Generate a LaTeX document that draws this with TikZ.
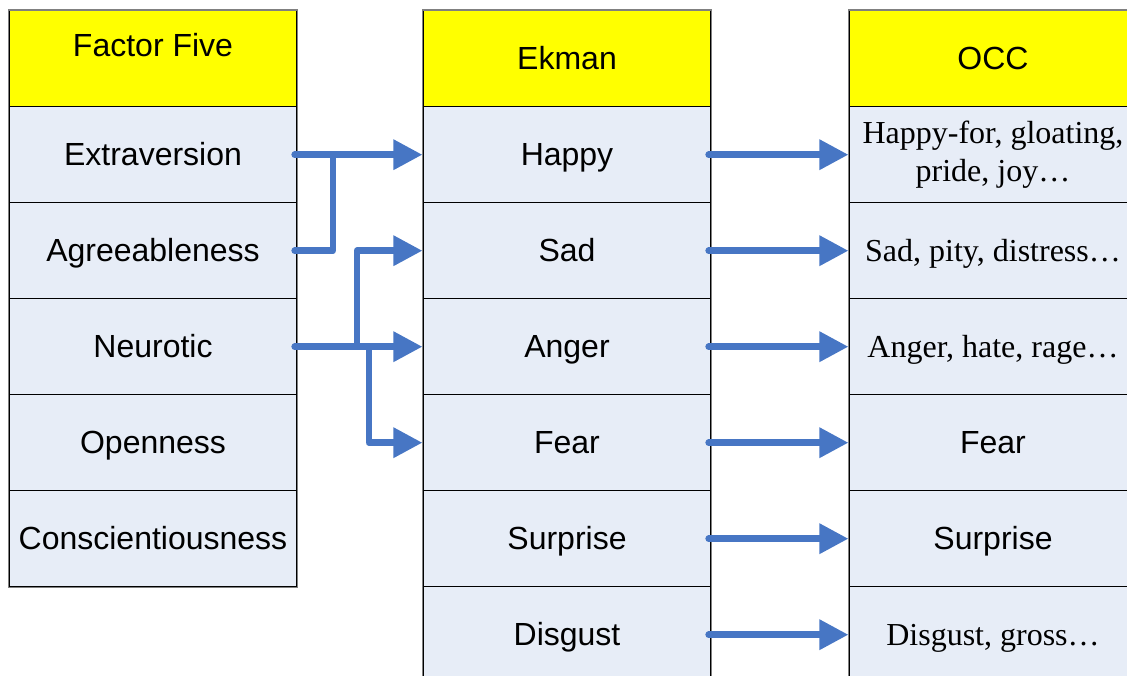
\documentclass[tikz,border=0pt]{standalone}
\usepackage{fontspec}
\setmainfont{Liberation Serif}
\newfontfamily\arialfont{Liberation Sans}
\usetikzlibrary{arrows.meta}

\definecolor{headyellow}{RGB}{255,255,0}
\definecolor{rowblue}{RGB}{231,237,247}
\definecolor{flowblue}{RGB}{71,118,196}
\definecolor{framegray}{RGB}{128,128,128}

\tikzset{
  box/.style={draw=black, line width=1.2pt, fill=rowblue, minimum width=288pt, minimum height=96pt, inner sep=0pt, font=\arialfont\fontsize{32}{38}\selectfont},
  cell/.style={box, text height=23pt, text depth=1pt},
  head/.style={cell, fill=headyellow},
  occcell/.style={cell, font=\fontsize{32}{38}\selectfont, align=center},
  twoline/.style={box, font=\fontsize{32}{38}\selectfont, align=center},
  frame/.style={draw=framegray, line width=1.5pt},
  link/.style={draw=flowblue, line width=6.5pt, line cap=round, line join=round},
  flow/.style={link, -{Triangle[length=29pt,width=29pt]}}
}

\begin{document}
\begin{tikzpicture}[x=1pt,y=-1pt]
\useasboundingbox (0,0) rectangle (1127,676);
\clip (0,0) rectangle (1127,676);

% Factor Five column
\node[head] (ff) at (153,58.7) {\raisebox{13pt}{Factor Five}};
\node[cell] (extra) at (153,154.7) {Extraversion};
\node[cell] (agree) at (153,250.7) {Agreeableness};
\node[cell] (neuro) at (153,346.7) {Neurotic};
\node[cell] (open) at (153,442.7) {Openness};
\node[cell] (consc) at (153,538.7) {Conscientiousness};
\draw[frame] (ff.north west) rectangle (consc.south east);

% Ekman column
\node[head] (ek) at (567,58.7) {Ekman};
\node[cell] (happy) at (567,154.7) {Happy};
\node[cell] (sad) at (567,250.7) {Sad};
\node[cell] (anger) at (567,346.7) {Anger};
\node[cell] (fear) at (567,442.7) {Fear};
\node[cell] (surp) at (567,538.7) {Surprise};
\node[cell] (disg) at (567,634.7) {Disgust};
\draw[frame] (ek.north west) rectangle (disg.south east);

% OCC column
\node[head] (occ) at (993,58.7) {OCC};
\node[twoline] (joy) at (993,154.7) {\raisebox{-2pt}{Happy-for, gloating,}\\\raisebox{-2pt}{pride, joy\dots}};
\node[occcell] (pity) at (993,250.7) {Sad, pity, distress\dots};
\node[occcell] (rage) at (993,346.7) {Anger, hate, rage\dots};
\node[cell] (fearo) at (993,442.7) {Fear};
\node[cell] (surpo) at (993,538.7) {Surprise};
\node[occcell] (gross) at (993,634.7) {Disgust, gross\dots};
\draw[frame] (occ.north west) rectangle (gross.south east);

% Factor Five -> Ekman
\coordinate (joinA) at (333,154.7);
\coordinate (splitS) at (357,346.7);
\coordinate (splitF) at (369,346.7);
\draw[flow] ([xshift=-3pt]extra.east) -- (happy.west);
\draw[link] ([xshift=-3pt]agree.east) -| (joinA);
\draw[flow] ([xshift=-3pt]neuro.east) -- (anger.west);
\draw[flow] (splitS) |- (sad.west);
\draw[flow] (splitF) |- (fear.west);

% Ekman -> OCC
\draw[flow] ([xshift=-3pt]happy.east) -- (joy.west);
\draw[flow] ([xshift=-3pt]sad.east) -- (pity.west);
\draw[flow] ([xshift=-3pt]anger.east) -- (rage.west);
\draw[flow] ([xshift=-3pt]fear.east) -- (fearo.west);
\draw[flow] ([xshift=-3pt]surp.east) -- (surpo.west);
\draw[flow] ([xshift=-3pt]disg.east) -- (gross.west);

\end{tikzpicture}
\end{document}
